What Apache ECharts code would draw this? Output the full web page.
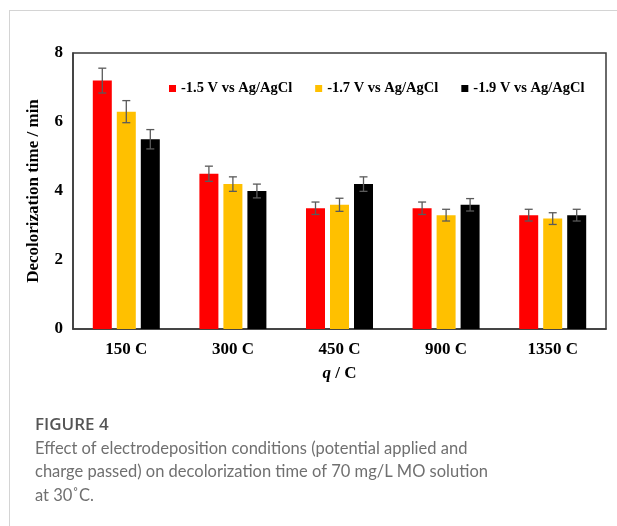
<!DOCTYPE html>
<html>
<head>
<meta charset="utf-8">
<script src="https://cdn.jsdelivr.net/npm/echarts@6/dist/echarts.min.js"></script>
<style>html,body{margin:0;padding:0;background:#fff}#c{width:617px;height:526px}</style>
</head>
<body>
<div id="c"></div>
<script>
var categories = ['150 C', '300 C', '450 C', '900 C', '1350 C'];
var seriesNames = ['-1.5 V vs Ag/AgCl', '-1.7 V vs Ag/AgCl', '-1.9 V vs Ag/AgCl'];
var v15 = [7.2, 4.5, 3.5, 3.5, 3.3];
var v17 = [6.3, 4.2, 3.6, 3.3, 3.2];
var v19 = [5.5, 4.0, 4.2, 3.6, 3.3];
var e15 = [0.36, 0.22, 0.18, 0.18, 0.17];
var e17 = [0.32, 0.21, 0.19, 0.17, 0.17];
var e19 = [0.28, 0.20, 0.21, 0.18, 0.17];
var yTicks = [0, 2, 4, 6, 8];
var captionTitle = 'FIGURE 4';
var captionLines = [
  'Effect of electrodeposition conditions (potential applied and',
  'charge passed) on decolorization time of 70 mg/L MO solution',
  'at 30\u02DAC.'
];

var colors = ['#FF0000', '#FFC000', '#000000'];
var values = [v15, v17, v19];
var errors = [e15, e17, e19];
var BW = 19, GAP = 5;
var serif = '"Liberation Serif", "Times New Roman", serif';
var FS = 17;

var series = [];
values.forEach(function (vals, i) {
  series.push({
    name: seriesNames[i], type: 'bar', data: vals,
    barWidth: BW, barGap: (GAP / BW * 100) + '%',
    itemStyle: { color: colors[i] }, z: 2
  });
});
values.forEach(function (vals, i) {
  var data = vals.map(function (v, k) { return [k, v, errors[i][k]]; });
  series.push({
    type: 'custom', name: 'err' + i, z: 5, silent: true,
    data: data,
    renderItem: function (params, api) {
      var k = api.value(0), v = api.value(1), e = api.value(2);
      var hi = api.coord([k, v + e]), lo = api.coord([k, v - e]);
      var x = hi[0] + (i - 1) * (BW + GAP);
      var c = 4;
      var st = { stroke: '#5a5a5a', lineWidth: 1.3 };
      return { type: 'group', children: [
        { type: 'line', shape: { x1: x, y1: hi[1], x2: x, y2: lo[1] }, style: st },
        { type: 'line', shape: { x1: x - c, y1: hi[1], x2: x + c, y2: hi[1] }, style: st },
        { type: 'line', shape: { x1: x - c, y1: lo[1], x2: x + c, y2: lo[1] }, style: st }
      ]};
    }
  });
});

var graphics = [
  { type: 'line', shape: { x1: 9, y1: 10.5, x2: 617, y2: 10.5 }, style: { stroke: '#d4d4d4', lineWidth: 1 } },
  { type: 'line', shape: { x1: 9.5, y1: 10, x2: 9.5, y2: 526 }, style: { stroke: '#d4d4d4', lineWidth: 1 } },
  { type: 'text', left: 35, top: 417, style: { text: captionTitle, font: '600 17px "Open Sans", sans-serif', fill: '#555555' } }
];
captionLines.forEach(function (t, j) {
  graphics.push({ type: 'text', left: 35, top: 440 + j * 23.5,
    style: { text: t, font: '16.5px Lato, sans-serif', fill: '#707070' } });
});

var chart = echarts.init(document.getElementById('c'));
chart.setOption({
  animation: false,
  backgroundColor: '#ffffff',
  color: colors,
  grid: { left: 73, top: 53, right: 11, bottom: 197, show: true, borderColor: '#3a3a3a', borderWidth: 1.5, containLabel: false },
  legend: {
    data: seriesNames, top: 76, left: 164, width: 450, itemWidth: 7, itemHeight: 7, itemGap: 23,
    icon: 'rect',
    textStyle: { fontFamily: serif, fontWeight: 'bold', fontSize: 14.5, color: '#000' }
  },
  xAxis: {
    type: 'category', data: categories,
    axisLine: { lineStyle: { color: '#3a3a3a', width: 1.5 } },
    axisTick: { show: false },
    axisLabel: { fontFamily: serif, fontWeight: 'bold', fontSize: FS, color: '#000', margin: 12 },
    name: '{i|q} / C', nameLocation: 'middle', nameGap: 36,
    nameTextStyle: { fontFamily: serif, fontWeight: 'bold', fontSize: FS, color: '#000',
      rich: { i: { fontFamily: serif, fontWeight: 'bold', fontStyle: 'italic', fontSize: FS, color: '#000' } } }
  },
  yAxis: {
    type: 'value', min: 0, max: 8, interval: 2,
    axisLine: { show: true, lineStyle: { color: '#3a3a3a', width: 1.5 } },
    axisTick: { show: false },
    splitLine: { show: false },
    axisLabel: { fontFamily: serif, fontWeight: 'bold', fontSize: FS, color: '#000', margin: 10,
      formatter: function (v) { return yTicks.indexOf(v) >= 0 ? String(v) : ''; } },
    name: 'Decolorization time / min', nameLocation: 'middle', nameGap: 31,
    nameTextStyle: { fontFamily: serif, fontWeight: 'bold', fontSize: FS, color: '#000' }
  },
  graphic: graphics,
  series: series
});
</script>
</body>
</html>
